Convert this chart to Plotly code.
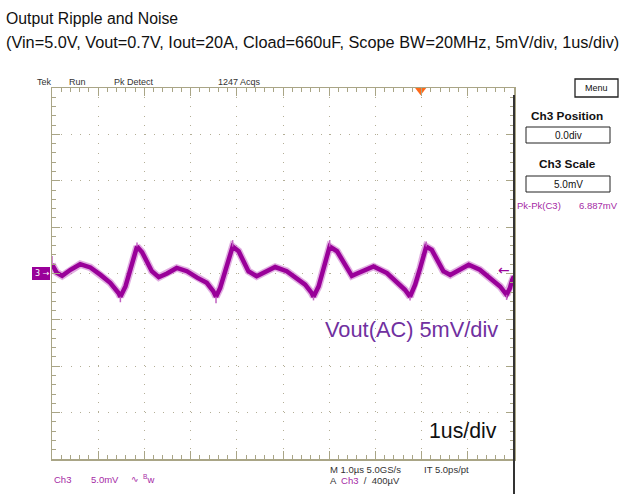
import plotly.graph_objects as go

# ---------------- data ----------------
time_us = [0.00, 0.10, 0.22, 0.40, 0.61, 0.83, 1.05, 1.26, 1.44, 1.48, 1.59, 1.69, 1.79, 1.84,
           1.95, 2.06, 2.16, 2.31, 2.49, 2.70, 2.92, 3.14, 3.35, 3.49, 3.55, 3.64, 3.75, 3.86,
           3.91, 4.04, 4.14, 4.25, 4.43, 4.61, 4.83, 5.08, 5.30, 5.48, 5.62, 5.66, 5.77, 5.88,
           5.96, 6.01, 6.17, 6.31, 6.38, 6.49, 6.63, 6.96, 7.25, 7.46, 7.64, 7.75, 7.86, 7.97,
           8.05, 8.10, 8.22, 8.33, 8.47, 8.62, 8.80, 9.02, 9.26, 9.48, 9.70, 9.84, 9.91, 9.96,
           10.00]
ripple_mv = [1.0, 0.1, -0.25, 0.4, 1.0, 0.65, -0.15, -1.0, -2.1, -2.5, -1.4, 0.2, 2.0, 2.9,
             2.3, 1.3, 0.25, -0.4, 0.0, 0.6, 0.25, -0.45, -1.0, -1.9, -2.5, -1.55, 0.4, 2.2,
             2.9, 2.4, 1.3, 0.25, -0.3, 0.1, 0.7, 0.25, -0.5, -1.2, -2.1, -2.5, -1.4, 0.6,
             2.2, 2.9, 2.4, 1.2, 0.55, -0.25, 0.05, 0.75, 0.05, -0.85, -1.75, -2.5, -1.2, 0.6,
             2.2, 2.9, 2.55, 1.5, 0.25, -0.15, 0.35, 0.95, 0.4, -0.5, -1.4, -2.3, -1.6, -0.7,
             -0.3]

# narrow noise spikes at the cusps / peaks
spike_time_us = [0.00, 1.48, 1.84, 3.55, 3.91, 5.66, 6.01, 7.75, 8.10, 9.84]
spike_base_mv = [1.0, -2.5, 2.9, -2.5, 2.9, -2.5, 2.9, -2.5, 2.9, -2.3]
spike_tip_mv = [1.9, -3.1, 3.35, -3.2, 3.6, -2.9, 3.6, -2.9, 3.45, -2.85]

trigger_time_us = 7.98
trigger_level_mv = 0.4

x_range_us = [0, 10]      # 1 us/div, 10 div
y_range_mv = [-20, 20]    # 5 mV/div, 8 div

# ---------------- styling ----------------
W_PX, H_PX = 631, 503
L, R, T, B = 52, 117, 88, 44
PW = W_PX - L - R
PH = H_PX - T - B

def px(X):
    return (X - L) / PW

def py(Y):
    return (H_PX - B - Y) / PH

TRACE = "#990099"
TAN = "#a9a586"
DOT = "#b3ae96"
UIPURP = "#a52aa5"
FONT = "Liberation Sans, Arial, sans-serif"
SYM = "DejaVu Sans, sans-serif"

fig = go.Figure()

# fuzzy envelope + main trace
fig.add_trace(go.Scatter(x=time_us, y=ripple_mv, mode="lines",
                         line=dict(color="rgba(205,120,205,0.6)", width=7.5),
                         hoverinfo="skip", showlegend=False))
fig.add_trace(go.Scatter(x=time_us, y=ripple_mv, mode="lines",
                         line=dict(color=TRACE, width=4.5),
                         hoverinfo="skip", showlegend=False))

sx, sy = [], []
for t, b0, b1 in zip(spike_time_us, spike_base_mv, spike_tip_mv):
    sx += [t, t, None]
    sy += [b0, b1, None]
fig.add_trace(go.Scatter(x=sx, y=sy, mode="lines",
                         line=dict(color="#c060c0", width=1.5),
                         hoverinfo="skip", showlegend=False))

# trigger position marker (orange triangle at top)
fig.add_trace(go.Scatter(x=[trigger_time_us], y=[y_range_mv[1] - 0.25], mode="markers",
                         marker=dict(symbol="triangle-down", size=10, color="#ff6a1a",
                                     line=dict(width=0)),
                         cliponaxis=False, hoverinfo="skip", showlegend=False))

axis_common = dict(showticklabels=False, showline=True, linecolor=TAN, linewidth=1.5,
                   mirror="allticks", ticks="inside", tickcolor=TAN, tickwidth=1,
                   ticklen=8, zeroline=False, showgrid=True, gridcolor=DOT, gridwidth=1)

fig.update_xaxes(range=x_range_us, tick0=0, dtick=1, griddash="1px,8.24px",
                 minor=dict(dtick=0.2, ticks="inside", ticklen=4, tickcolor=TAN, showgrid=False),
                 **axis_common)
fig.update_yaxes(range=y_range_mv, tick0=0, dtick=5, griddash="1px,8.275px",
                 minor=dict(dtick=1, ticks="inside", ticklen=4, tickcolor=TAN, showgrid=False),
                 **axis_common)

shapes = [
    # dark right border of the graticule
    dict(type="line", xref="paper", yref="paper", x0=1, x1=1, y0=py(494), y1=py(95),
         line=dict(color="#333333", width=2)),
    # Menu button
    dict(type="rect", xref="paper", yref="paper", x0=px(575), x1=px(618), y0=py(97), y1=py(79),
         line=dict(color="#222222", width=1.3)),
    # Ch3 position / scale boxes
    dict(type="rect", xref="paper", yref="paper", x0=px(526), x1=px(610), y0=py(143), y1=py(127),
         line=dict(color="#222222", width=1)),
    dict(type="rect", xref="paper", yref="paper", x0=px(526), x1=px(610), y0=py(192), y1=py(176),
         line=dict(color="#222222", width=1)),
    # channel 3 ground marker box
    dict(type="rect", xref="paper", yref="paper", x0=px(32), x1=px(50), y0=py(280), y1=py(267),
         fillcolor=TRACE, line=dict(width=0)),
]

def ann(text, X, Y, size=9, color="#333333", xanchor="left", bold=False, family=FONT):
    return dict(text=("<b>%s</b>" % text) if bold else text, xref="paper", yref="paper",
                x=px(X), y=py(Y), xanchor=xanchor, yanchor="middle", showarrow=False,
                font=dict(size=size, color=color, family=family))

annotations = [
    ann("Output Ripple and Noise", 4, 18, size=15.8, color="#111111"),
    ann("(Vin=5.0V, Vout=0.7V, Iout=20A, Cload=660uF, Scope BW=20MHz, 5mV/div, 1us/div)",
        4, 42, size=16.3, color="#111111"),
    ann("Tek", 35, 82), ann("Run", 67, 82), ann("Pk Detect", 112, 82), ann("1247 Acqs", 216, 82),
    ann("Menu", 596.5, 88, xanchor="center", color="#111111"),
    ann("Ch3 Position", 567, 116, size=11.8, color="#111111", xanchor="center", bold=True),
    ann("0.0div", 568, 135, size=10, color="#111111", xanchor="center"),
    ann("Ch3 Scale", 567, 164, size=11.8, color="#111111", xanchor="center", bold=True),
    ann("5.0mV", 568, 184, size=10, color="#111111", xanchor="center"),
    ann("Pk-Pk(C3)", 515, 205, size=9.5, color=UIPURP),
    ann("6.887mV", 577, 205, size=9.5, color=UIPURP),
    ann("Vout(AC) 5mV/div", 500, 329, size=21.8, color="#7030A0", xanchor="right"),
    ann("1us/div", 499, 431, size=21.3, color="#111111", xanchor="right"),
    ann("Ch3", 52, 479, size=9.5, color=UIPURP),
    ann("5.0mV", 89, 479, size=9.5, color=UIPURP),
    ann("∿", 129, 479, size=9, color=UIPURP, family=SYM),
    ann("<sup>B</sup>w", 141, 479, size=9.5, color=UIPURP),
    ann("M 1.0µs 5.0GS/s", 328, 469, size=9.5),
    ann("IT 5.0ps/pt", 422, 469, size=9.5),
    ann("A  <span style='color:%s'>Ch3</span>  /  400µV" % UIPURP, 328, 480, size=9.5),
    ann("3 →", 33, 273.5, size=8, color="white", family=SYM),
    dict(text="←", xref="x", yref="y", x=x_range_us[1] - 0.05, y=trigger_level_mv,
         xanchor="right", yanchor="middle", showarrow=False,
         font=dict(size=14, color=TRACE, family=SYM)),
]

fig.update_layout(width=W_PX, height=H_PX, margin=dict(l=L, r=R, t=T, b=B),
                  plot_bgcolor="white", paper_bgcolor="white", showlegend=False,
                  shapes=shapes, annotations=annotations, font=dict(family=FONT))

fig.write_html("out.html", config={"displayModeBar": False, "staticPlot": True},
               post_script="document.body.style.margin='0';document.body.style.overflow='hidden';")
